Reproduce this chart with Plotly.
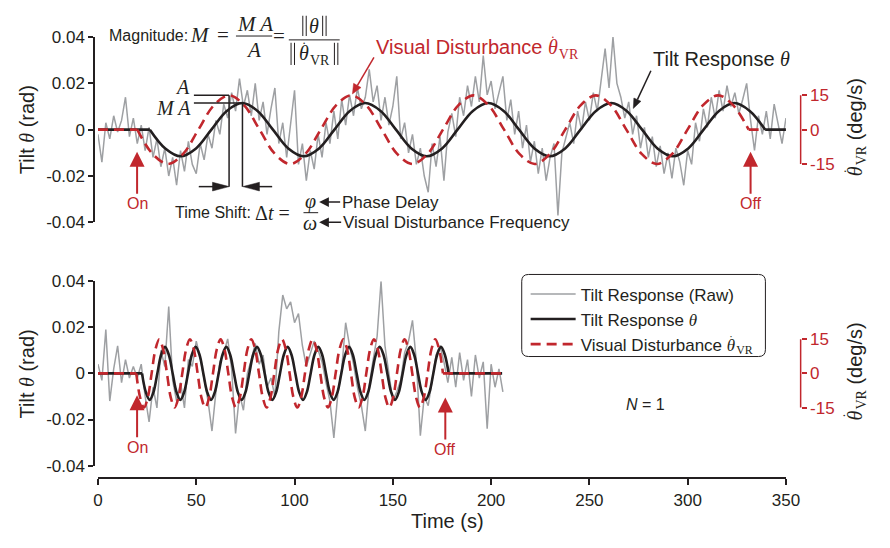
import plotly.graph_objects as go

# ---------------- data ----------------
TOP_T = list(range(0, 351, 2))            # s
TOP_RAW_MRAD = [                           # raw tilt, mrad
    -2, -14, 3, -4, 6, -1, 4, 14, -3, 5,
    -6, 2, -9, 1, -12, -4, -16, -8, -20, -12,
    -24, -9, -18, -5, -15, -19, -6, -13, -2, -8,
    4, -2, 11, 5, 16, 8, 22, 10, 17, 6,
    20, 4, 12, -2, 9, 18, -6, 3, -12, 2,
    17, -15, -6, -22, -9, -17, -2, -12, 3, -6,
    8, -4, 13, 2, 15, 6, 18, 9, 14, 26,
    12, 19, 4, 14, 2, 10, 23, -4, 3, -10,
    -2, -15, -8, -20, -27, -6, -16, -3, -22, -1,
    7, -3, 14, 6, 19, 10, 23, 12, 32, 15,
    21, 9, 16, 23, 4, 13, -2, 8, -8, 2,
    -14, -5, -19, -8, -22, -12, -6, -37, -10, -4,
    3, -6, 8, 0, 12, 4, 16, 8, 22, 35,
    18, 40, 20, 14, 5, 12, -2, 6, -8, 1,
    -12, -3, -16, -7, -19, -10, -21, -8, -14, -24,
    -9, -15, 3, -5, 9, 1, 14, 5, 17, 8,
    19, 10, 16, 7, 13, 20, 4, -9, 6, -2,
    8, -4, 11, 2, -6, 5,
]
TOP_FIT_LEAD_T = [0, 26.4]
TOP_FIT_T = [26.4, 34.23, 42.05, 49.88, 57.7, 65.53, 73.35, 81.18, 89.0, 96.83,
             104.65, 112.48, 120.3, 128.13, 135.95, 143.78, 151.6, 159.43, 167.25, 175.08,
             182.9, 190.73, 198.55, 206.38, 214.2, 222.03, 229.85, 237.68, 245.5, 253.33,
             261.15, 268.98, 276.8, 284.63, 292.45, 300.28, 308.1, 315.93, 323.75, 331.58,
             339.4]
TOP_FIT_MRAD = [0, -8.1, -11.5, -8.1, 0, 8.1, 11.5, 8.1, 0, -8.1,
                -11.5, -8.1, 0, 8.1, 11.5, 8.1, 0, -8.1, -11.5, -8.1,
                0, 8.1, 11.5, 8.1, 0, -8.1, -11.5, -8.1, 0, 8.1,
                11.5, 8.1, 0, -8.1, -11.5, -8.1, 0, 8.1, 11.5, 8.1,
                0]
TOP_FIT_TAIL_T = [339.4, 350]

TOP_VR_LEAD_T = [0, 20.0]
TOP_VR_T = [20.0, 27.8, 35.6, 43.3, 51.1, 58.9, 66.7, 74.4, 82.2, 90.0,
            97.8, 105.5, 113.3, 121.1, 128.9, 136.6, 144.4, 152.2, 160.0, 167.7,
            175.5, 183.3, 191.1, 198.8, 206.6, 214.4, 222.2, 229.9, 237.7, 245.5,
            253.3, 261.0, 268.8, 276.6, 284.4, 292.1, 299.9, 307.7, 315.5, 323.2,
            331.0]
TOP_VR = [0, -10.6, -15, -10.6, 0, 10.6, 15, 10.6, 0, -10.6,
          -15, -10.6, 0, 10.6, 15, 10.6, 0, -10.6, -15, -10.6,
          0, 10.6, 15, 10.6, 0, -10.6, -15, -10.6, 0, 10.6,
          15, 10.6, 0, -10.6, -15, -10.6, 0, 10.6, 15, 10.6,
          0]
TOP_VR_TAIL_T = [331.0, 338.0]

BOT_T = list(range(0, 207, 2))
BOT_RAW_MRAD = [
    4, -3, 19, -12, 2, 12, -4, 6, -2, 3,
    -2, 4, -10, -21, -6, -15, 10, 3, 29, -3,
    -12, -4, -15, 6, 3, 14, 7, -2, -12, -25,
    -8, 5, 9, 15, 2, -26, -9, -16, 0, 6,
    13, 4, 8, -6, -2, -10, 18, 34, 28, 31,
    22, 26, 12, 3, 8, 14, 10, 5, -4, -12,
    -28, -9, 2, 22, 12, 4, -6, -14, -25, -5,
    6, 16, 40, 12, 0, -12, -8, -3, 9, 14,
    23, 5, -27, -10, -14, -2, 8, 12, 5, -4,
    7, -6, 9, -3, 6, -10, 8, -2, 5, -24,
    4, -6, 2, -8,
]
BOT_FIT_LEAD_T = [0, 22.4]
BOT_FIT_T = [22.4, 24.35, 26.3, 28.25, 30.2, 32.15, 34.1, 36.05, 38.0, 39.95,
             41.9, 43.85, 45.8, 47.75, 49.7, 51.65, 53.6, 55.55, 57.5, 59.45,
             61.4, 63.35, 65.3, 67.25, 69.2, 71.15, 73.1, 75.05, 77.0, 78.95,
             80.9, 82.85, 84.8, 86.75, 88.7, 90.65, 92.6, 94.55, 96.5, 98.45,
             100.4, 102.35, 104.3, 106.25, 108.2, 110.15, 112.1, 114.05, 116.0, 117.95,
             119.9, 121.85, 123.8, 125.75, 127.7, 129.65, 131.6, 133.55, 135.5, 137.45,
             139.4, 141.35, 143.3, 145.25, 147.2, 149.15, 151.1, 153.05, 155.0, 156.95,
             158.9, 160.85, 162.8, 164.75, 166.7, 168.65, 170.6, 172.55, 174.5, 176.45,
             178.4]
BOT_FIT_MRAD = [0, -8.1, -11.5, -8.1, 0, 8.1, 11.5, 8.1, 0, -8.1,
                -11.5, -8.1, 0, 8.1, 11.5, 8.1, 0, -8.1, -11.5, -8.1,
                0, 8.1, 11.5, 8.1, 0, -8.1, -11.5, -8.1, 0, 8.1,
                11.5, 8.1, 0, -8.1, -11.5, -8.1, 0, 8.1, 11.5, 8.1,
                0, -8.1, -11.5, -8.1, 0, 8.1, 11.5, 8.1, 0, -8.1,
                -11.5, -8.1, 0, 8.1, 11.5, 8.1, 0, -8.1, -11.5, -8.1,
                0, 8.1, 11.5, 8.1, 0, -8.1, -11.5, -8.1, 0, 8.1,
                11.5, 8.1, 0, -8.1, -11.5, -8.1, 0, 8.1, 11.5, 8.1,
                0]
BOT_FIT_TAIL_T = [178.4, 205.6]

BOT_VR_LEAD_T = [0, 19.5]
BOT_VR_T = [19.5, 21.45, 23.4, 25.35, 27.3, 29.25, 31.2, 33.15, 35.1, 37.05,
            39.0, 40.95, 42.9, 44.85, 46.8, 48.75, 50.7, 52.65, 54.6, 56.55,
            58.5, 60.45, 62.4, 64.35, 66.3, 68.25, 70.2, 72.15, 74.1, 76.05,
            78.0, 79.95, 81.9, 83.85, 85.8, 87.75, 89.7, 91.65, 93.6, 95.55,
            97.5, 99.45, 101.4, 103.35, 105.3, 107.25, 109.2, 111.15, 113.1, 115.05,
            117.0, 118.95, 120.9, 122.85, 124.8, 126.75, 128.7, 130.65, 132.6, 134.55,
            136.5, 138.45, 140.4, 142.35, 144.3, 146.25, 148.2, 150.15, 152.1, 154.05,
            156.0, 157.95, 159.9, 161.85, 163.8, 165.75, 167.7, 169.65, 171.6, 173.55,
            175.5]
BOT_VR = [0, -10.6, -15, -10.6, 0, 10.6, 15, 10.6, 0, -10.6,
          -15, -10.6, 0, 10.6, 15, 10.6, 0, -10.6, -15, -10.6,
          0, 10.6, 15, 10.6, 0, -10.6, -15, -10.6, 0, 10.6,
          15, 10.6, 0, -10.6, -15, -10.6, 0, 10.6, 15, 10.6,
          0, -10.6, -15, -10.6, 0, 10.6, 15, 10.6, 0, -10.6,
          -15, -10.6, 0, 10.6, 15, 10.6, 0, -10.6, -15, -10.6,
          0, 10.6, 15, 10.6, 0, -10.6, -15, -10.6, 0, 10.6,
          15, 10.6, 0, -10.6, -15, -10.6, 0, 10.6, 15, 10.6,
          0]
BOT_VR_TAIL_T = [175.5, 205.6]

X_TICKS = [0, 50, 100, 150, 200, 250, 300, 350]
Y_TICKS = [-0.04, -0.02, 0, 0.02, 0.04]
Y_TICK_TEXT = ["-0.04", "-0.02", "0", "0.02", "0.04"]
VR_TICKS = [-15, 0, 15]
VR_TICK_TEXT = ["-15", "0", "15"]

# ---------------- style ----------------
W, H = 890, 548
INK = "#231f20"
RED = "#c1272d"
GRAY = "#9ea0a3"
SANS = "Liberation Sans, Arial, sans-serif"
SERIF = "Liberation Serif"


def px(x):
    return x / W


def py(y):
    return 1 - y / H


def m(s):
    return f'<span style="font-family:{SERIF}"><i>{s}</i></span>'


def theta_dot(size):
    """theta with an over-dot (raised dot pulled back over the glyph)"""
    back = round(size * 0.36, 1)
    fwd = round(size * 0.18, 1)
    return (f'<span style="font-family:{SERIF}"><i><span style="letter-spacing:-{back}px">θ</span></i>'
            f'<sup><span style="letter-spacing:{fwd}px">˙</span></sup></span>')


THETA = m("θ")
VR = f'<span style="font-family:{SERIF}"><sub>VR</sub></span>'


def gapjoin(*parts):
    out = []
    for i, p in enumerate(parts):
        if i:
            out.append(None)
        out.extend(p)
    return out


def mrad(vals):
    return [v / 1000 for v in vals]


fig = go.Figure()

fig.add_trace(go.Scatter(x=TOP_T, y=mrad(TOP_RAW_MRAD), mode="lines",
                         line=dict(color=GRAY, width=1.5), xaxis="x", yaxis="y",
                         showlegend=False, hoverinfo="skip"))
fig.add_trace(go.Scatter(x=gapjoin(TOP_FIT_LEAD_T, TOP_FIT_T, TOP_FIT_TAIL_T),
                         y=gapjoin([0, 0], mrad(TOP_FIT_MRAD), [0, 0]),
                         mode="lines", line=dict(color=INK, width=2.6, shape="spline", smoothing=1),
                         xaxis="x", yaxis="y", showlegend=False))
fig.add_trace(go.Scatter(x=gapjoin(TOP_VR_LEAD_T, TOP_VR_T, TOP_VR_TAIL_T),
                         y=gapjoin([0, 0], TOP_VR, [0, 0]),
                         mode="lines", line=dict(color=RED, width=2.6, dash="10px,6px", shape="spline", smoothing=1),
                         xaxis="x", yaxis="y2", showlegend=False))

fig.add_trace(go.Scatter(x=BOT_T, y=mrad(BOT_RAW_MRAD), mode="lines",
                         line=dict(color=GRAY, width=1.5), xaxis="x2", yaxis="y3",
                         name="Tilt Response (Raw)", hoverinfo="skip"))
fig.add_trace(go.Scatter(x=gapjoin(BOT_FIT_LEAD_T, BOT_FIT_T, BOT_FIT_TAIL_T),
                         y=gapjoin([0, 0], mrad(BOT_FIT_MRAD), [0, 0]),
                         mode="lines", line=dict(color=INK, width=2.6, shape="spline", smoothing=1),
                         xaxis="x2", yaxis="y3", name="Tilt Response " + THETA))
fig.add_trace(go.Scatter(x=gapjoin(BOT_VR_LEAD_T, BOT_VR_T, BOT_VR_TAIL_T),
                         y=gapjoin([0, 0], BOT_VR, [0, 0]),
                         mode="lines", line=dict(color=RED, width=2.6, dash="10px,6px", shape="spline", smoothing=1),
                         xaxis="x2", yaxis="y4", name="Visual Disturbance " + theta_dot(17) + VR))

X_DOM = [px(95), px(798)]
TOP_DOM = [py(221), py(29)]
BOT_DOM = [py(473), py(282)]
VR_RANGE = [-40.5, 40.5]

left_axis = dict(range=[-0.04, 0.04], anchor="free", position=px(91), showline=True,
                 linecolor=INK, linewidth=1.5, ticks="outside", ticklen=5, tickwidth=1.5,
                 tickcolor=INK, tickvals=Y_TICKS, ticktext=Y_TICK_TEXT, showgrid=False,
                 zeroline=False, tickfont=dict(size=17, color=INK, family=SANS), fixedrange=True)
right_axis = dict(range=VR_RANGE, anchor="free", position=px(813), side="right",
                  showline=False, ticks="outside", ticklen=5, tickwidth=1.5, tickcolor=RED,
                  tickvals=VR_TICKS, ticktext=VR_TICK_TEXT, showgrid=False, zeroline=False,
                  tickfont=dict(size=17, color=RED, family=SANS), fixedrange=True)

fig.update_layout(
    width=W, height=H, margin=dict(l=0, r=0, t=0, b=0),
    paper_bgcolor="white", plot_bgcolor="rgba(0,0,0,0)",
    font=dict(family=SANS, size=17, color=INK),
    xaxis=dict(domain=X_DOM, range=[0, 350], visible=False, anchor="y", fixedrange=True),
    yaxis=dict(domain=TOP_DOM, **left_axis),
    yaxis2=dict(overlaying="y", **right_axis),
    xaxis2=dict(domain=X_DOM, range=[0, 350], anchor="free", position=py(486), showline=True,
                linecolor=INK, linewidth=2, ticks="outside", ticklen=6, tickwidth=1.5,
                tickcolor=INK, tickvals=X_TICKS, showgrid=False, zeroline=False,
                tickfont=dict(size=17, color=INK, family=SANS), fixedrange=True),
    yaxis3=dict(domain=BOT_DOM, **left_axis),
    yaxis4=dict(overlaying="y3", **right_axis),
    legend=dict(x=px(532), y=py(277), xanchor="left", yanchor="top",
                bgcolor="rgba(0,0,0,0)", borderwidth=0, itemwidth=45,
                font=dict(size=17, color=INK, family=SANS), tracegroupgap=0),
    showlegend=True,
)

shapes = []
# red axis brackets (-15..15)
for yref in ("y2", "y4"):
    shapes.append(dict(type="line", xref="paper", yref=yref, x0=px(813), x1=px(813),
                       y0=-15, y1=15, line=dict(color=RED, width=1.5)))

# legend rounded box
x0, x1, y0, y1 = px(528), px(777), py(360), py(275)
rx, ry = 7 / W, 7 / H
shapes.append(dict(type="path", xref="paper", yref="paper",
                   path=(f"M{x0+rx},{y1} L{x1-rx},{y1} Q{x1},{y1} {x1},{y1-ry} "
                         f"L{x1},{y0+ry} Q{x1},{y0} {x1-rx},{y0} L{x0+rx},{y0} "
                         f"Q{x0},{y0} {x0},{y0+ry} L{x0},{y1-ry} Q{x0},{y1} {x0+rx},{y1} Z"),
                   line=dict(color=INK, width=1)))

# A / MA construction lines (top panel)
A_LEVEL, MA_LEVEL, ARROW_LEVEL = 0.0149, 0.0115, -0.0246
shapes += [
    dict(type="line", xref="x", yref="y", x0=48.8, x1=66.7, y0=A_LEVEL, y1=A_LEVEL, line=dict(color=INK, width=1.5)),
    dict(type="line", xref="x", yref="y", x0=66.7, x1=66.7, y0=A_LEVEL, y1=ARROW_LEVEL, line=dict(color=INK, width=1.5)),
    dict(type="line", xref="x", yref="y", x0=48.8, x1=73.5, y0=MA_LEVEL, y1=MA_LEVEL, line=dict(color=INK, width=1.5)),
    dict(type="line", xref="x", yref="y", x0=73.5, x1=73.5, y0=MA_LEVEL, y1=ARROW_LEVEL, line=dict(color=INK, width=1.5)),
]


def seg(xa, ya, xb, yb, width=1.0, color=INK):
    return dict(type="line", xref="paper", yref="paper", x0=px(xa), x1=px(xb),
                y0=py(ya), y1=py(yb), line=dict(color=color, width=width))


def tri(p1, p2, p3, color=INK):
    pts = [p1, p2, p3]
    path = "M" + " L".join(f"{px(a)},{py(b)}" for a, b in pts) + " Z"
    return dict(type="path", xref="paper", yref="paper", path=path,
                fillcolor=color, line=dict(color=color, width=0.5))


# fraction bars
shapes += [seg(236, 28, 273, 28), seg(290, 32, 342, 32), seg(305, 211, 320, 211)]
# norm bars  ||theta||  and  ||theta_dot_VR||
for xb in (304.3, 307.8, 324.6, 328.1):
    shapes.append(seg(xb, 7, xb, 28, width=1.0))
for xb in (292.3, 295.8, 336.6, 340.1):
    shapes.append(seg(xb, 35, xb, 58, width=1.0))

# delta-t arrows (shaft + filled head)
shapes += [seg(198, 184, 214, 184, width=1.5), tri((229, 184), (212, 179.5), (212, 188.5)),
           seg(258, 184, 273, 184, width=1.5), tri((243, 184), (260, 179.5), (260, 188.5))]
# label pointer arrows
shapes += [seg(377, 50, 360.0, 79.3, width=1.5, color=RED),
           tri((355, 88), (363.8, 81.4), (356.2, 77.0), color=RED),
           seg(660, 64, 646.2, 93.9, width=1.5),
           tri((642, 103), (649.8, 95.6), (642.6, 92.2))]
fig.update_layout(shapes=shapes)

anns = []


def ann(text, x, y, size=17, color=INK, family=SANS, xanchor="center", yanchor="middle", angle=0):
    return dict(text=text, x=px(x), y=py(y), xref="paper", yref="paper", showarrow=False,
                font=dict(size=size, color=color, family=family), xanchor=xanchor,
                yanchor=yanchor, textangle=angle)


# axis titles
for yc in (125, 378):
    anns.append(ann("Tilt " + THETA + " (rad)", 22, yc, size=20, angle=-90))
    anns.append(ann(theta_dot(20) + VR + " (deg/s)", 869, yc - 3, size=20, angle=-90))
anns.append(ann("Time (s)", 452, 530, size=20))

# magnitude formula
anns += [
    ann("Magnitude:", 104, 27, size=16, xanchor="left"),
    ann("<i>M</i>", 199, 27, size=21, family=SERIF),
    ann("=", 223, 27, size=21, family=SERIF),
    ann("<i>M A</i>", 255, 16, size=21, family=SERIF),
    ann("<i>A</i>", 254, 42, size=21, family=SERIF),
    ann("=", 280, 28, size=21, family=SERIF),
    ann("<i>θ</i>", 316, 18, size=20, family=SERIF),
    ann(theta_dot(20) + "<sub>VR</sub>", 316, 47, size=20, family=SERIF),
]
# A, MA labels
anns += [
    ann("<i>A</i>", 191, 81, size=20, family=SERIF, xanchor="right"),
    ann("<i>M A</i>", 192, 103, size=20, family=SERIF, xanchor="right"),
]
# time shift
anns += [
    ann("Time Shift:", 172, 211, size=16, xanchor="left"),
    ann("Δ<i>t</i> =", 253, 211, size=20, family=SERIF, xanchor="left"),
    ann("<i>φ</i>", 312, 199, size=20, family=SERIF),
    ann("<i>ω</i>", 312, 222, size=20, family=SERIF),
]
anns.append(dict(text="Phase Delay", x=px(321), y=py(200), xref="paper", yref="paper",
                 ax=71, ay=0, showarrow=True, arrowhead=2, arrowsize=1.3, arrowwidth=1.5,
                 arrowcolor=INK, font=dict(size=17, color=INK, family=SANS)))
anns.append(dict(text="Visual Disturbance Frequency", x=px(321), y=py(221), xref="paper", yref="paper",
                 ax=137, ay=0, showarrow=True, arrowhead=2, arrowsize=1.3, arrowwidth=1.5,
                 arrowcolor=INK, font=dict(size=17, color=INK, family=SANS)))

# curve labels
anns.append(ann("Visual Disturbance " + theta_dot(20) + VR, 377, 40, size=20, color=RED, xanchor="left"))
anns.append(ann("Tilt Response " + THETA, 660, 52, size=20, xanchor="left"))

# on / off markers
for label, t, xr, yr, yv in (("On", 19.9, "x", "y", -0.0095), ("Off", 332.0, "x", "y", -0.0095),
                             ("On", 19.9, "x2", "y3", -0.0095), ("Off", 176.7, "x2", "y3", -0.0104)):
    anns.append(dict(text=label, x=t, y=yv, xref=xr, yref=yr, ax=0, ay=52, showarrow=True,
                     arrowhead=2, arrowsize=1.5, arrowwidth=2, arrowcolor=RED, standoff=0,
                     font=dict(size=16, color=RED, family=SANS)))

anns.append(ann("<i>N</i> = 1", 654, 410, size=16))
fig.update_layout(annotations=anns)

fig.write_html("out.html")
